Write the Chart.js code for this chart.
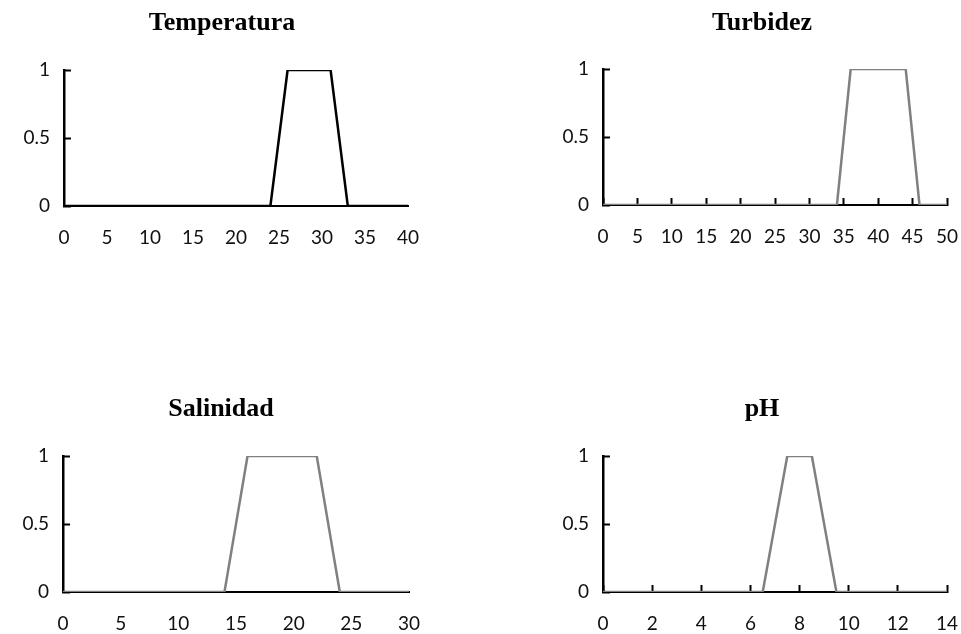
<!DOCTYPE html>
<html><head><meta charset="utf-8">
<script src="https://cdn.jsdelivr.net/npm/chart.js@4.4.1/dist/chart.umd.min.js"></script>
<style>
html,body{margin:0;padding:0;background:#fff;width:961px;height:634px;overflow:hidden;position:relative;}
.c{position:absolute;}
canvas{display:block;}
</style></head><body>
<div class="c" style="left:0px;top:0px"><canvas id="c1" width="480" height="317"></canvas></div>
<div class="c" style="left:480px;top:0px"><canvas id="c2" width="564" height="317"></canvas></div>
<div class="c" style="left:0px;top:317px"><canvas id="c3" width="480" height="317"></canvas></div>
<div class="c" style="left:480px;top:317px"><canvas id="c4" width="564" height="317"></canvas></div>
<script>
// ---- data ----
const titles = ["Temperatura", "Turbidez", "Salinidad", "pH"];
const tempX = [0, 24, 26, 31, 33, 40];
const tempY = [0, 0, 1, 1, 0, 0];
const turbX = [0, 34, 36, 44, 46, 50];
const turbY = [0, 0, 1, 1, 0, 0];
const salX  = [0, 14, 16, 22, 24, 30];
const salY  = [0, 0, 1, 1, 0, 0];
const phX   = [0, 6.5, 7.5, 8.5, 9.5, 14];
const phY   = [0, 0, 1, 1, 0, 0];
const yTicks = [0, 0.5, 1];
const yTickLabels = ["0", "0.5", "1"];
const tempTicks = [0, 5, 10, 15, 20, 25, 30, 35, 40];
const turbTicks = [0, 5, 10, 15, 20, 25, 30, 35, 40, 45, 50];
const salTicks  = [0, 5, 10, 15, 20, 25, 30];
const phTicks   = [0, 2, 4, 6, 8, 10, 12, 14];

const TICK_FONT = {family: "Lato", size: 19};
const TITLE_FONT = {family: "Liberation Serif", size: 26, weight: "bold"};

function make(id, title, xs, ys, xt, color, xInside, g) {
  const pts = xs.map((x, i) => ({x: x, y: ys[i]}));
  new Chart(document.getElementById(id), {
    type: 'scatter',
    data: {datasets: [{
      data: pts, showLine: true, borderColor: color, borderWidth: 2.5,
      pointRadius: 0, pointHoverRadius: 0, tension: 0, fill: false
    }]},
    options: {
      responsive: false, animation: false, devicePixelRatio: 1,
      events: [],
      layout: {padding: {left: 0, right: g.R, top: 0, bottom: 0}},
      plugins: {
        legend: {display: false}, tooltip: {enabled: false},
        title: {display: true, text: title, color: '#000', font: TITLE_FONT,
                padding: {top: g.tTop, bottom: g.tBot}}
      },
      scales: {
        x: {
          type: 'linear', min: xt[0], max: xt[xt.length - 1],
          afterBuildTicks: s => { s.ticks = xt.map(v => ({value: v})); },
          afterFit: s => { s.height = g.xH; s.paddingLeft = 0; s.paddingRight = 0; },
          grid: {display: true, drawOnChartArea: false, drawTicks: xInside,
                 tickLength: -7, tickWidth: 2, color: '#000', tickColor: '#000'},
          border: {display: true, color: '#000', width: 2},
          ticks: {autoSkip: false, maxRotation: 0, color: '#111', font: TICK_FONT,
                  padding: xInside ? 27 : 20,
                  callback: v => String(v)}
        },
        y: {
          type: 'linear', position: 'left', min: 0, max: 1,
          afterBuildTicks: s => { s.ticks = yTicks.map(v => ({value: v})); },
          afterFit: s => { s.width = g.yW; s.paddingTop = 0; s.paddingBottom = 0; },
          grid: {display: true, drawOnChartArea: false, drawTicks: true,
                 tickLength: -7, tickWidth: 2, color: '#000', tickColor: '#000'},
          border: {display: true, color: '#000', width: 2.5},
          ticks: {color: '#111', font: TICK_FONT, padding: 21,
                  callback: v => yTickLabels[yTicks.indexOf(v)]}
        },
        spacer: {
          type: 'linear', position: 'right', min: 0, max: 1, display: true,
          afterFit: s => { s.width = g.sp; s.paddingTop = 0; s.paddingBottom = 0; },
          grid: {display: false, drawTicks: false},
          border: {display: false},
          ticks: {display: false}
        }
      }
    }
  });
}

make('c1', titles[0], tempX, tempY, tempTicks, '#000000', false,
     {R: 36, yW: 64, sp: 36, xH: 111, tTop: 7.4, tBot: 31.4});
make('c2', titles[1], turbX, turbY, turbTicks, '#808080', true,
     {R: 0, yW: 123, sp: 97, xH: 112, tTop: 7.4, tBot: 30.4});
make('c3', titles[2], salX, salY, salTicks, '#808080', false,
     {R: 38, yW: 63, sp: 33, xH: 42, tTop: 76.4, tBot: 31.4});
make('c4', titles[3], phX, phY, phTicks, '#808080', true,
     {R: 0, yW: 123, sp: 97, xH: 42, tTop: 76.4, tBot: 31.4});
</script>
</body></html>
